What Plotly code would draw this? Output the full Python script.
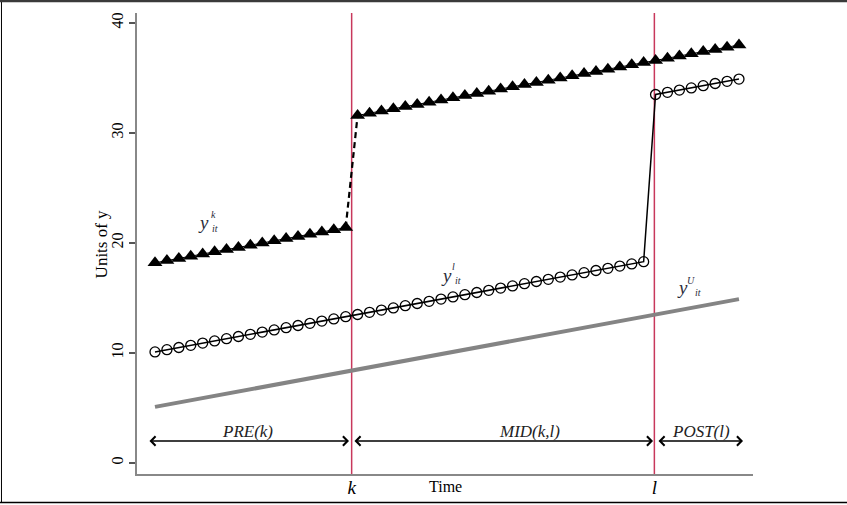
import plotly.graph_objects as go

# ---- data ----
time = list(range(1, 51))
y_k = [18.2, 18.4, 18.6, 18.8, 19.0, 19.2, 19.4, 19.6, 19.8, 20.0, 20.2, 20.4, 20.6, 20.8, 21.0, 21.2, 21.4,
       31.6, 31.8, 32.0, 32.2, 32.4, 32.6, 32.8, 33.0, 33.2, 33.4, 33.6, 33.8, 34.0, 34.2, 34.4, 34.6, 34.8,
       35.0, 35.2, 35.4, 35.6, 35.8, 36.0, 36.2, 36.4, 36.6, 36.8, 37.0, 37.2, 37.4, 37.6, 37.8, 38.0]
y_l = [10.1, 10.3, 10.5, 10.7, 10.9, 11.1, 11.3, 11.5, 11.7, 11.9, 12.1, 12.3, 12.5, 12.7, 12.9, 13.1, 13.3,
       13.5, 13.7, 13.9, 14.1, 14.3, 14.5, 14.7, 14.9, 15.1, 15.3, 15.5, 15.7, 15.9, 16.1, 16.3, 16.5, 16.7,
       16.9, 17.1, 17.3, 17.5, 17.7, 17.9, 18.1, 18.3,
       33.5, 33.7, 33.9, 34.1, 34.3, 34.5, 34.7, 34.9]
y_U = [5.1, 5.3, 5.5, 5.7, 5.9, 6.1, 6.3, 6.5, 6.7, 6.9, 7.1, 7.3, 7.5, 7.7, 7.9, 8.1, 8.3, 8.5, 8.7, 8.9,
       9.1, 9.3, 9.5, 9.7, 9.9, 10.1, 10.3, 10.5, 10.7, 10.9, 11.1, 11.3, 11.5, 11.7, 11.9, 12.1, 12.3, 12.5,
       12.7, 12.9, 13.1, 13.3, 13.5, 13.7, 13.9, 14.1, 14.3, 14.5, 14.7, 14.9]
k_event = 17.5      # treatment time of group k
l_event = 42.9      # treatment time of group l
k_last_pre = 17     # last period before k's jump
period_labels = ["<i>k</i>", "<i>l</i>"]
y_ticks = [0, 10, 20, 30, 40]
arrow_y = 2.0
segments = [("PRE(k)", 0.41, 17.28, 8.8), ("MID(k,l)", 17.61, 42.79, 32.46), ("POST(l)", 43.12, 50.34, 46.81)]

SERIF = "Liberation Serif, Times New Roman, serif"
RED = "#C8385C"

fig = go.Figure()

# untreated: gray line
fig.add_trace(go.Scatter(x=time, y=y_U, mode="lines", line=dict(color="#848484", width=4)))

# group l: open circles
fig.add_trace(go.Scatter(x=time, y=y_l, mode="lines+markers",
                         line=dict(color="black", width=1.5),
                         marker=dict(symbol="circle-open", size=10, color="black", line=dict(width=1.3))))

# group k: triangles, pre and post, dashed jump
i = k_last_pre
fig.add_trace(go.Scatter(x=time[i - 1:i + 1], y=y_k[i - 1:i + 1], mode="lines",
                         line=dict(color="black", width=2.2, dash="6px,4px")))
fig.add_trace(go.Scatter(x=time[:i], y=y_k[:i], mode="lines+markers",
                         line=dict(color="black", width=1),
                         marker=dict(symbol="triangle-up", size=13, color="black")))
fig.add_trace(go.Scatter(x=time[i:], y=y_k[i:], mode="lines+markers",
                         line=dict(color="black", width=1),
                         marker=dict(symbol="triangle-up", size=13, color="black")))

# event lines
for xv in (k_event, l_event):
    fig.add_shape(type="line", xref="x", yref="paper", x0=xv, x1=xv, y0=0, y1=1,
                  line=dict(color=RED, width=1.5), layer="below")

# period arrows and labels
for name, x0, x1, xm in segments:
    fig.add_annotation(x=x1, y=arrow_y, ax=x0, ay=arrow_y, xref="x", yref="y", axref="x", ayref="y",
                       text="", showarrow=True, arrowhead=4, startarrowhead=4, arrowside="end+start",
                       arrowwidth=1.5, arrowsize=1.2, startarrowsize=1.2, arrowcolor="black")
    fig.add_annotation(x=xm, y=arrow_y + 0.82, xref="x", yref="y", text=f"<i>{name}</i>", showarrow=False,
                       font=dict(family=SERIF, size=17, color="#222"))

# series labels (y with stacked super/subscript)
def series_label(x, y, sup, sx, sy, bx, by):
    fig.add_annotation(x=x, y=y, xref="x", yref="y", text="<i>y</i>", showarrow=False,
                       font=dict(family=SERIF, size=19, color="#2b2b3a"), yshift=3)
    fig.add_annotation(x=x, y=y, xref="x", yref="y", text=f"<i>{sup}</i>", showarrow=False,
                       font=dict(family=SERIF, size=10, color="#2b2b3a"), xshift=sx, yshift=sy)
    fig.add_annotation(x=x, y=y, xref="x", yref="y", text="<i>it</i>", showarrow=False,
                       font=dict(family=SERIF, size=10, color="#2b2b3a"), xshift=bx, yshift=by)

series_label(5.03, 21.6, "k", 10, 11, 12, -3)
series_label(25.45, 16.8, "l", 7, 12, 12, -2)
series_label(45.26, 15.7, "U", 8.5, 10, 16, -2.5)

# axis titles
fig.add_annotation(x=0.5, y=-0.028, xref="paper", yref="paper", text="Time", showarrow=False,
                   font=dict(family=SERIF, size=16, color="black"), yanchor="middle")
fig.add_annotation(x=-0.057, y=0.5, xref="paper", yref="paper", text="Units of y", showarrow=False,
                   textangle=-90, font=dict(family=SERIF, size=17, color="black"),
                   xanchor="center", yanchor="middle")

# outer frame lines (left, top, bottom)
fig.add_shape(type="line", xref="paper", yref="paper", x0=-0.2200, x1=-0.2200, y0=-0.0618, y1=1.028,
              line=dict(color="black", width=1))
fig.add_shape(type="line", xref="paper", yref="paper", x0=-0.2224, x1=1.16, y0=1.0265, y1=1.0265,
              line=dict(color="#3a3a3a", width=3))
fig.add_shape(type="line", xref="paper", yref="paper", x0=-0.2224, x1=1.16, y0=-0.0618, y1=-0.0618,
              line=dict(color="black", width=1.5))

fig.update_layout(
    width=847, height=505,
    margin=dict(l=137, r=94, t=13, b=31, autoexpand=False),
    plot_bgcolor="white", paper_bgcolor="white",
    showlegend=False,
    xaxis=dict(range=[-0.510, 51.176], showgrid=False, zeroline=False, automargin=False,
               showline=True, linecolor="#888888", linewidth=2,
               tickmode="array", tickvals=[k_event, l_event], ticktext=period_labels,
               ticks="", ticklabelstandoff=-5, tickfont=dict(family=SERIF, size=19, color="black")),
    yaxis=dict(range=[-1, 40.909], showgrid=False, zeroline=False, automargin=False,
               showline=True, linecolor="#888888", linewidth=2,
               tickmode="array", tickvals=y_ticks, ticks="outside", ticklen=6, tickwidth=1.5,
               tickcolor="#555555", tickangle=-90,
               tickfont=dict(family=SERIF, size=16, color="black")),
)

fig.write_html("out.html", config={"displayModeBar": False},
               post_script="document.body.style.margin='0px';document.body.style.overflow='hidden';")
